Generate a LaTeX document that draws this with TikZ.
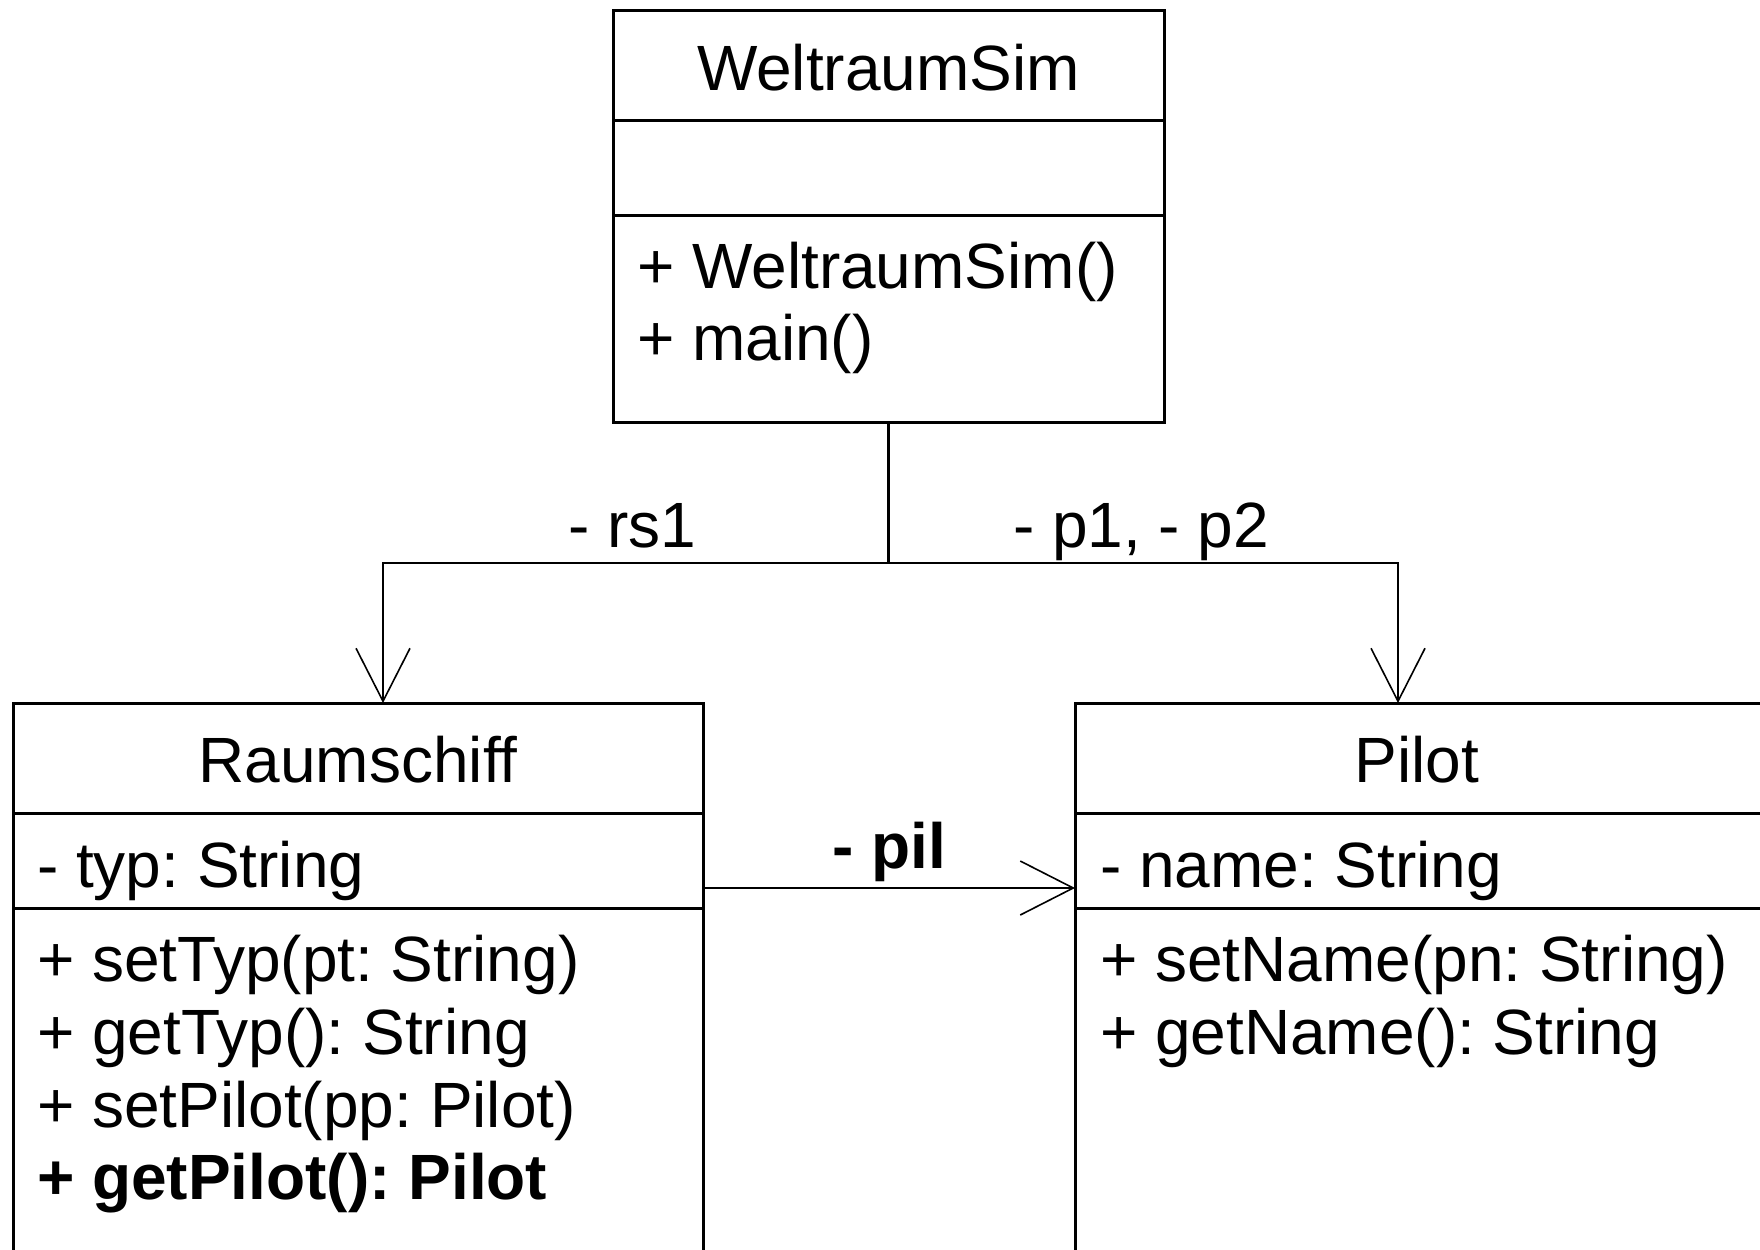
\documentclass[tikz,border=0pt]{standalone}
\usepackage{fontspec}
\setmainfont{Liberation Sans}
\usetikzlibrary{arrows.meta}
\frenchspacing
\begin{document}
\begin{tikzpicture}[x=0.5pt,y=-0.5pt,
  umlbox/.style={draw=black,line width=1.5pt,inner sep=0pt,outer sep=0pt},
  divider/.style={draw=black,line width=1.5pt},
  conn/.style={draw=black,line width=1.1pt},
  assoc/.style={conn,-{Straight Barb[length=26.5pt,width=27pt,line width=0.8pt]}},
  txt/.style={inner sep=0pt,outer sep=0pt,font=\fontsize{32}{38}\selectfont,anchor=base west},
  title/.style={txt,anchor=base},
  lbl/.style={txt}]
\useasboundingbox (0,0) rectangle (1760,1249);
\clip (0,0) rectangle (1760,1249);
\fill[white] (0,0) rectangle (1760,1249);

% WeltraumSim
\node[umlbox,minimum width=275.5pt,minimum height=206pt] (ws) at (888.5,216) {};
\draw[divider] (ws.west |- 0,120) -- (ws.east |- 0,120);
\draw[divider] (ws.west |- 0,215) -- (ws.east |- 0,215);
\node[title] (wsT) at (888.5,90) {WeltraumSim};
\node[txt] (wsM1) at (637,288) {+ WeltraumSim()};
\node[txt] (wsM2) at (637,360) {+ main()};

% Raumschiff
\node[umlbox,minimum width=345pt,minimum height=300pt] (rs) at (358,1003) {};
\draw[divider] (rs.west |- 0,813) -- (rs.east |- 0,813);
\draw[divider] (rs.west |- 0,908) -- (rs.east |- 0,908);
\node[title] (rsT) at (358,782) {Raumschiff};
\node[txt] (rsA1) at (37,887) {- typ: String};
\node[txt] (rsM1) at (37,981) {+ setTyp(pt: String)};
\node[txt] (rsM2) at (37,1054) {+ getTyp(): String};
\node[txt] (rsM3) at (37,1127) {+ setPilot(pp: Pilot)};
\node[txt,font=\fontsize{32}{38}\selectfont\bfseries] (rsM4) at (37,1199) {+ getPilot(): Pilot};

% Pilot
\node[umlbox,minimum width=345pt,minimum height=300pt] (pl) at (1420,1003) {};
\draw[divider] (pl.west |- 0,813) -- (pl.east |- 0,813);
\draw[divider] (pl.west |- 0,908) -- (pl.east |- 0,908);
\node[title] (plT) at (1417,782) {Pilot};
\node[txt] (plA1) at (1100,887) {- name: String};
\node[txt] (plM1) at (1100,981) {+ setName(pn: String)};
\node[txt] (plM2) at (1100,1054) {+ getName(): String};

% connectors
\coordinate (jn) at (888.5,563);
\coordinate (rsin) at (383,703);
\coordinate (plin) at (1398,703);
\draw[conn] (ws.south) -- (jn);
\draw[assoc] (jn) -| (rsin);
\draw[assoc] (jn) -| (plin);
\draw[assoc] (rs.east |- 0,888) -- (pl.west |- 0,888);

\node[lbl,anchor=base east] (lrs) at (696,547) {- rs1};
\node[lbl] (lp) at (1013,547) {- p1, - p2};
\node[lbl,anchor=base,font=\fontsize{32}{38}\selectfont\bfseries] (lpil) at (889,868) {- pil};
\end{tikzpicture}
\end{document}
